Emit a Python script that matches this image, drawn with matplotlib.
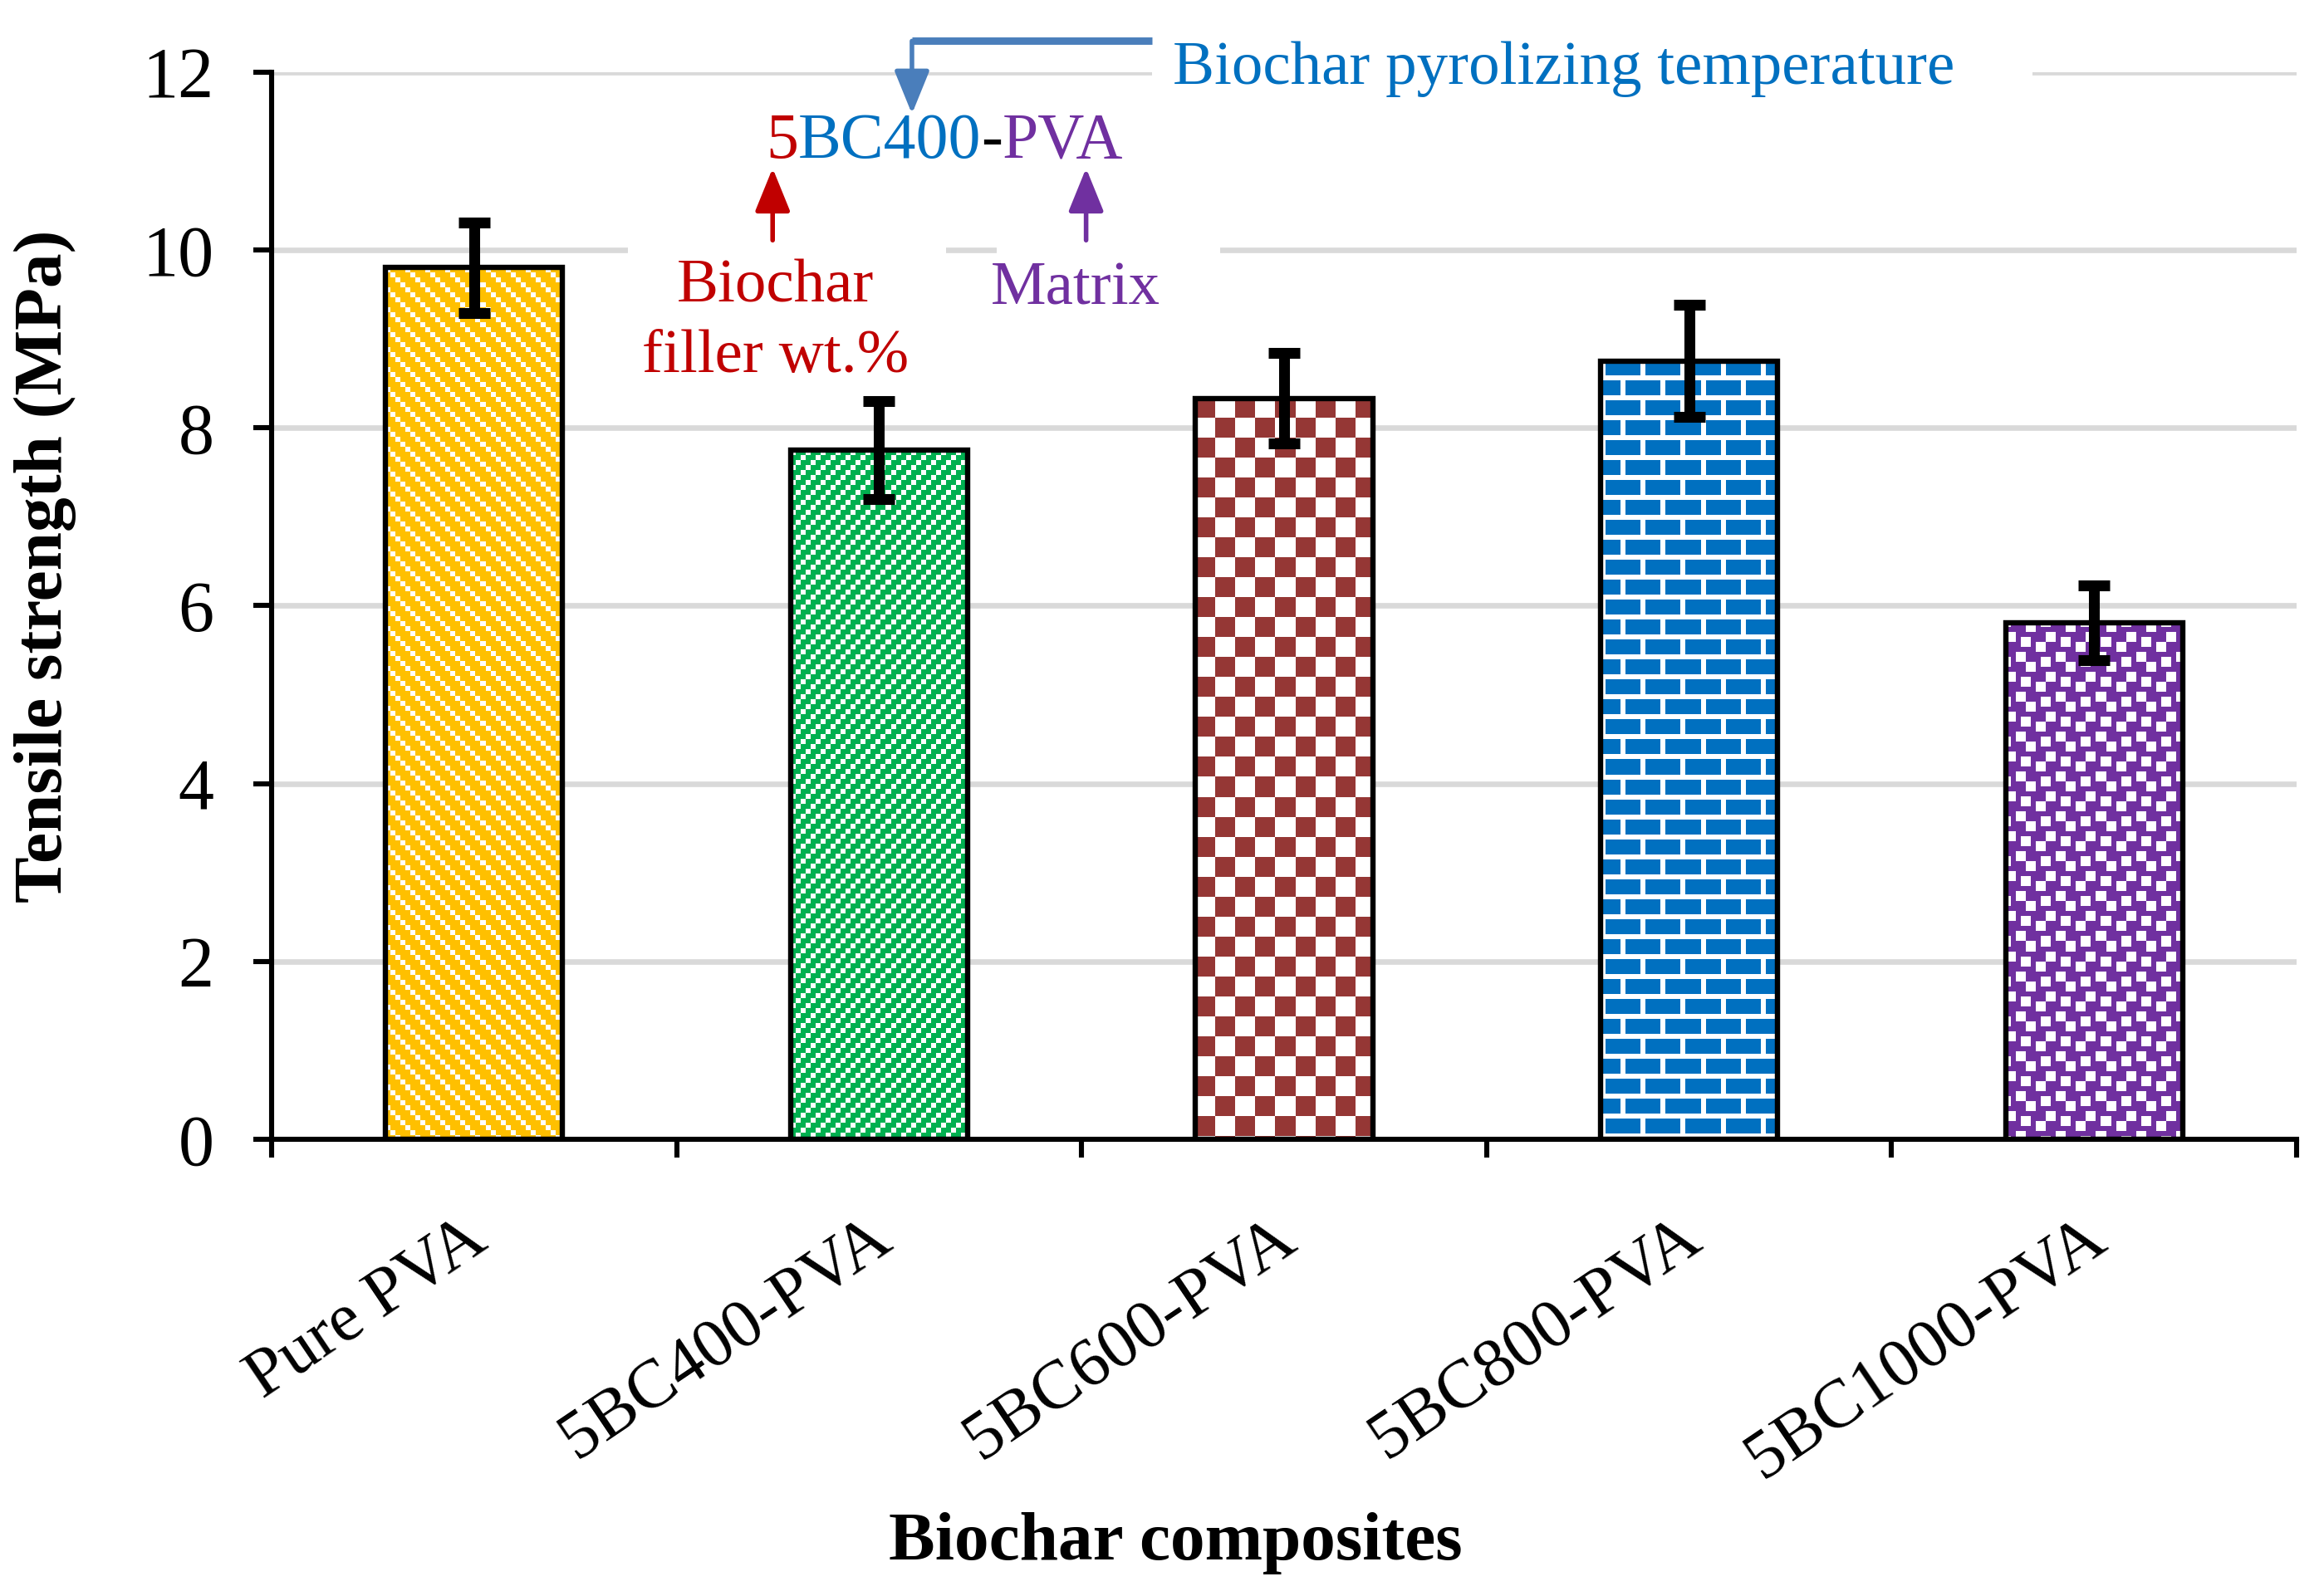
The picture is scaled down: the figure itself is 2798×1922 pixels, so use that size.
import numpy as np
import matplotlib.pyplot as plt
from matplotlib.colors import to_rgb
from matplotlib.patches import Rectangle
from matplotlib.transforms import ScaledTranslation

# Data
samples = ["Pure PVA", "5BC400-PVA", "5BC600-PVA", "5BC800-PVA", "5BC1000-PVA"]
strength = [9.80, 7.75, 8.33, 8.75, 5.81]
strength_err = [0.51, 0.55, 0.51, 0.63, 0.42]
bar_colors = ["#FFC000", "#00B050", "#953735", "#0070C0", "#7030A0"]

plt.rcParams['font.family'] = ['Liberation Serif', 'DejaVu Serif']

# Excel-like fill patterns (1 = white)
r4, c4 = np.mgrid[0:4, 0:4]
r3, c3 = np.mgrid[0:3, 0:3]
r8, c8 = np.mgrid[0:8, 0:8]
brick = np.zeros((8, 8), int)
brick[0:3, 0] = 1
brick[4:7, 4] = 1
brick[3, :] = 1
brick[7, :] = 1
confetti = np.array([
    [1, 0, 0, 0, 1, 1, 0, 1],
    [0, 0, 0, 0, 1, 1, 0, 0],
    [1, 1, 0, 0, 0, 0, 0, 0],
    [1, 1, 0, 1, 1, 0, 0, 0],
    [0, 0, 0, 1, 1, 0, 1, 1],
    [0, 0, 0, 0, 0, 0, 1, 1],
    [0, 0, 1, 1, 0, 0, 0, 0],
    [1, 0, 1, 1, 0, 0, 0, 1]])
tiles = [((c4 - r4) % 4 == 0).astype(int),
         ((c3 + r3) % 3 == 0).astype(int),
         ((r8 // 4 + c8 // 4) % 2).astype(int),
         brick,
         confetti]


def fill_pattern(ax, bar, tile, color, px=6):
    x0, y0 = bar.get_x(), bar.get_y()
    x1, y1 = x0 + bar.get_width(), y0 + bar.get_height()
    (dx0, dy0), (dx1, dy1) = ax.transData.transform([(x0, y0), (x1, y1)])
    ncol = int(np.ceil((dx1 - dx0) / px))
    nrow = int(np.ceil((dy1 - dy0) / px))
    th, tw = tile.shape
    mask = tile[np.arange(nrow)[:, None] % th, np.arange(ncol)[None, :] % tw]
    rgb = np.where(mask[..., None] == 1, np.array(to_rgb("white")), np.array(to_rgb(color)))
    ex1, ey0 = ax.transData.inverted().transform((dx0 + ncol * px, dy1 - nrow * px))
    im = ax.imshow(rgb, extent=(x0, ex1, ey0, y1), origin="upper",
                   interpolation="nearest", aspect="auto", zorder=2.5)
    im.set_clip_path(bar)


fig = plt.figure(figsize=(13.99, 9.61), dpi=200)
ax = fig.add_axes([0.1169, 0.2862, 0.8713, 0.6686])
ax.set_xlim(-0.5, 4.5)
ax.set_ylim(0, 12)

x = np.arange(len(samples))
bars = ax.bar(x, strength, width=0.437, color=bar_colors, edgecolor="black",
              linewidth=2.3, zorder=3)
for bar, tile, col in zip(bars, tiles, bar_colors):
    fill_pattern(ax, bar, tile, col)
    bar.set_facecolor("none")
ax.set_xlim(-0.5, 4.5)
ax.set_ylim(0, 12)

ax.errorbar(x, strength, yerr=strength_err, fmt="none", ecolor="black",
            elinewidth=4.7, capsize=7, capthick=4.7, zorder=4)

# Axes styling
ax.set_axisbelow(True)
ax.yaxis.grid(True, color="#D9D9D9", linewidth=2.4)
for s in ["top", "right"]:
    ax.spines[s].set_visible(False)
for s in ["left", "bottom"]:
    ax.spines[s].set_linewidth(2.2)
ax.set_yticks(np.arange(0, 13, 2))
ax.tick_params(axis="y", direction="out", length=8, width=2.2, pad=17, labelsize=31)
ax.set_xticks(x)
ax.set_xticklabels(samples, rotation=34, ha="right", rotation_mode="anchor", fontsize=30)
ax.set_xticks(np.arange(-0.5, 4.6, 1), minor=True)
ax.tick_params(axis="x", which="major", length=0, pad=29)
ax.tick_params(axis="x", which="minor", direction="out", length=8, width=2.2)
for lab in ax.get_xticklabels():
    lab.set_transform(lab.get_transform() + ScaledTranslation(-5 / 72, 0, fig.dpi_scale_trans))

fig.text(0.0193, 0.645, "Tensile strength (MPa)", rotation=90, ha="center", va="center",
         fontsize=30, fontweight="bold")
fig.text(0.506, 0.033, "Biochar composites", ha="center", va="center",
         fontsize=30, fontweight="bold")

# Naming annotation
fs = 27
red, blue, purple, arrow_blue = "#C00000", "#0070C0", "#7030A0", "#4A7EBB"
for (xa, xb), (ya, yb) in [((1.674, 3.848), (11.72, 12.28)),
                           ((0.380, 1.165), (9.70, 10.30)),
                           ((1.290, 1.842), (9.70, 10.30))]:
    ax.add_patch(Rectangle((xa, ya), xb - xa, yb - ya, facecolor="white",
                           edgecolor="none", zorder=1, clip_on=False))

t1 = ax.text(0.72, 11.04, "5", color=red, fontsize=28, va="baseline", ha="left")
t2 = ax.annotate("BC400", xy=(1, 0), xycoords=t1, va="bottom", ha="left", color=blue, fontsize=28)
t3 = ax.annotate("-", xy=(1, 0), xycoords=t2, va="bottom", ha="left", color="black", fontsize=28)
ax.annotate("PVA", xy=(1, 0), xycoords=t3, va="bottom", ha="left", color=purple, fontsize=28)

ax.text(1.726, 11.87, "Biochar pyrolizing temperature", color=blue, fontsize=fs,
        va="baseline", ha="left", clip_on=False)
ax.text(0.744, 9.42, "Biochar", color=red, fontsize=fs, va="baseline", ha="center")
ax.text(0.744, 8.63, "filler wt.%", color=red, fontsize=fs, va="baseline", ha="center")
ax.text(1.485, 9.39, "Matrix", color=purple, fontsize=fs, va="baseline", ha="center")

head = "-|>,head_length=1.6,head_width=0.65"
ax.annotate("", xy=(0.737, 10.92), xytext=(0.737, 10.11),
            arrowprops=dict(arrowstyle=head, color=red, lw=2, mutation_scale=10,
                            shrinkA=0, shrinkB=0))
ax.annotate("", xy=(1.511, 10.92), xytext=(1.511, 10.11),
            arrowprops=dict(arrowstyle=head, color=purple, lw=2, mutation_scale=10,
                            shrinkA=0, shrinkB=0))
ax.plot([1.674, 1.081], [12.35, 12.35], color=arrow_blue, lw=3.2, clip_on=False,
        solid_capstyle="butt")
ax.annotate("", xy=(1.081, 11.53), xytext=(1.081, 12.35), annotation_clip=False,
            arrowprops=dict(arrowstyle=head, color=arrow_blue, lw=2, mutation_scale=10,
                            shrinkA=0, shrinkB=0))

fig.savefig("out.png", dpi=200)
